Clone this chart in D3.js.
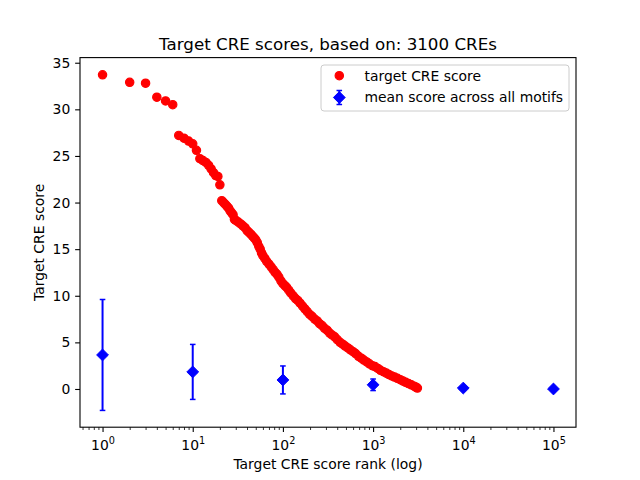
<!DOCTYPE html>
<html>
<head>
<meta charset="utf-8">
<script src="https://cdn.jsdelivr.net/npm/d3@7"></script>
<style>
body { margin: 0; background: #fff; }
svg { font-family: "DejaVu Sans", sans-serif; }
</style>
</head>
<body>
<div id="chart"></div>
<script>
// data
var ranks = [1, 2, 3, 4, 5, 6, 7, 8, 9, 10, 11, 12, 13, 14, 15, 16, 17, 18, 19, 20,
    21, 22, 23, 24, 25, 26, 27, 28, 29, 30, 32, 34, 36, 38, 40, 42, 44, 46, 48, 50,
    52, 54, 56, 58, 60, 63, 66, 70, 74, 78, 82, 86, 90, 95, 100, 105, 110, 116, 122, 130,
    138, 146, 155, 165, 175, 186, 198, 210, 225, 240, 255, 272, 290, 310, 330, 350, 375, 400, 430, 460,
    490, 525, 560, 600, 640, 690, 740, 790, 850, 910, 980, 1050, 1130, 1210, 1300, 1400, 1500, 1610, 1730, 1860,
    2000, 2150, 2300, 2470, 2650, 2850, 3000, 3100];
var scores = [33.7, 32.9, 32.8, 31.3, 30.9, 30.5, 27.2, 26.9, 26.6, 26.3, 25.6, 24.7, 24.5, 24.3, 24.0, 23.6, 23.2, 22.9, 22.8, 21.9,
    20.2, 20.0, 19.8, 19.6, 19.4, 19.1, 18.9, 18.7, 18.2, 18.1, 17.9, 17.7, 17.5, 17.3, 17.0, 16.8, 16.6, 16.4, 16.2, 16.0,
    15.7, 15.3, 15.0, 14.6, 14.3, 14.0, 13.7, 13.4, 13.1, 12.8, 12.5, 12.3, 12.0, 11.6, 11.3, 11.1, 10.9, 10.6, 10.3, 10.0,
    9.7, 9.5, 9.2, 8.9, 8.6, 8.3, 8.0, 7.8, 7.5, 7.3, 7.0, 6.8, 6.5, 6.3, 6.0, 5.8, 5.6, 5.3, 5.0, 4.8,
    4.6, 4.4, 4.2, 4.0, 3.8, 3.5, 3.3, 3.1, 2.9, 2.7, 2.5, 2.4, 2.2, 2.0, 1.85, 1.7, 1.55, 1.4, 1.28, 1.15,
    1.0, 0.85, 0.72, 0.58, 0.45, 0.3, 0.18, 0.1];

var motifRanks = [1, 10, 100, 1000, 10000, 100000];
var motifMeans = [3.65, 1.83, 0.97, 0.45, 0.1, 0.0];
var motifErrs = [5.95, 2.95, 1.5, 0.62, 0.05, 0.02];

var yTicks = [0, 5, 10, 15, 20, 25, 30, 35];
var xTicks = [1, 10, 100, 1000, 10000, 100000];
var xTickExps = ['0', '1', '2', '3', '4', '5'];

var titleText = 'Target CRE scores, based on: 3100 CREs';
var xLabel = 'Target CRE score rank (log)';
var yLabel = 'Target CRE score';
var legendLabels = ['target CRE score', 'mean score across all motifs'];

// layout
var width = 640, height = 480;
var plotL = 80, plotR = 576, plotT = 57.6, plotB = 427.2;
var fs = 13.9;

var svg = d3.select('#chart').append('svg')
    .attr('width', width)
    .attr('height', height);

var x = d3.scaleLog()
    .domain([Math.pow(10, -0.25), Math.pow(10, 5.25)])
    .range([plotL, plotR]);
var y = d3.scaleLinear()
    .domain([-4.1, 35.55])
    .range([plotB, plotT]);

// axes
var xMinor = x.ticks().filter(function (d) {
    var l = Math.log10(d);
    return Math.abs(l - Math.round(l)) > 1e-6;
});

svg.append('g')
    .attr('transform', 'translate(0,' + plotB + ')')
    .call(d3.axisBottom(x).tickValues(xMinor).tickSize(2.8).tickSizeOuter(0).tickFormat(''))
    .call(function (g) { g.select('.domain').remove(); })
    .selectAll('line').attr('stroke-width', 0.8);

var xAxis = svg.append('g')
    .attr('transform', 'translate(0,' + plotB + ')')
    .call(d3.axisBottom(x).tickValues(xTicks).tickSize(4.86).tickPadding(4.86).tickSizeOuter(0).tickFormat(''));
xAxis.select('.domain').remove();
xAxis.selectAll('line').attr('stroke-width', 1.1);
xAxis.selectAll('.tick').each(function (d, i) {
    var t = d3.select(this).select('text')
        .attr('font-size', fs)
        .attr('font-family', '"DejaVu Sans", sans-serif')
        .attr('fill', '#000')
        .attr('dy', null)
        .attr('y', 22.8);
    t.append('tspan').text('10');
    t.append('tspan')
        .attr('font-size', fs * 0.7)
        .attr('dy', -6)
        .text(xTickExps[i]);
});

var yAxis = svg.append('g')
    .attr('transform', 'translate(' + plotL + ',0)')
    .call(d3.axisLeft(y).tickValues(yTicks).tickSize(4.86).tickPadding(4.86).tickSizeOuter(0));
yAxis.select('.domain').remove();
yAxis.selectAll('line').attr('stroke-width', 1.1);
yAxis.selectAll('text')
    .attr('font-size', fs)
    .attr('font-family', '"DejaVu Sans", sans-serif')
    .attr('fill', '#000');

// red scatter
var cre = ranks.map(function (r, i) { return { r: r, s: scores[i] }; });
svg.append('g').selectAll('circle')
    .data(cre)
    .enter()
    .append('circle')
    .attr('cx', function (d) { return x(d.r); })
    .attr('cy', function (d) { return y(d.s); })
    .attr('r', 4.17)
    .attr('fill', '#ff0000')
    .attr('stroke', '#ff0000')
    .attr('stroke-width', 1.2);

// blue errorbars
var motifs = motifRanks.map(function (r, i) { return { r: r, m: motifMeans[i], e: motifErrs[i] }; });
var eb = svg.append('g').selectAll('g')
    .data(motifs)
    .enter()
    .append('g')
    .attr('stroke', '#0000ff');
eb.append('line')
    .attr('x1', function (d) { return x(d.r); })
    .attr('x2', function (d) { return x(d.r); })
    .attr('y1', function (d) { return y(d.m - d.e); })
    .attr('y2', function (d) { return y(d.m + d.e); })
    .attr('stroke-width', 2);
[-1, 1].forEach(function (sgn) {
    eb.append('line')
        .attr('x1', function (d) { return x(d.r) - 2.8; })
        .attr('x2', function (d) { return x(d.r) + 2.8; })
        .attr('y1', function (d) { return y(d.m + sgn * d.e); })
        .attr('y2', function (d) { return y(d.m + sgn * d.e); })
        .attr('stroke-width', 1.5);
});

var dr = 5.9;
var diamond = 'M0,' + (-dr) + 'L' + dr + ',0L0,' + dr + 'L' + (-dr) + ',0Z';
eb.append('path')
    .attr('d', diamond)
    .attr('transform', function (d) { return 'translate(' + x(d.r) + ',' + y(d.m) + ')'; })
    .attr('fill', '#0000ff')
    .attr('stroke-width', 1);

// frame
svg.append('rect')
    .attr('x', plotL).attr('y', plotT)
    .attr('width', plotR - plotL).attr('height', plotB - plotT)
    .attr('fill', 'none')
    .attr('stroke', '#000')
    .attr('stroke-width', 1.1);

// texts
svg.append('text')
    .attr('x', (plotL + plotR) / 2).attr('y', 49.5)
    .attr('text-anchor', 'middle')
    .attr('font-size', 16.7)
    .text(titleText);
svg.append('text')
    .attr('x', (plotL + plotR) / 2).attr('y', 469)
    .attr('text-anchor', 'middle')
    .attr('font-size', fs)
    .text(xLabel);
svg.append('text')
    .attr('transform', 'translate(44,' + ((plotT + plotB) / 2) + ') rotate(-90)')
    .attr('text-anchor', 'middle')
    .attr('font-size', fs)
    .text(yLabel);

// legend
var lg = svg.append('g');
lg.append('rect')
    .attr('x', 321).attr('y', 65)
    .attr('width', 248).attr('height', 46)
    .attr('rx', 3)
    .attr('fill', '#fff').attr('fill-opacity', 0.8)
    .attr('stroke', '#cccccc').attr('stroke-width', 1);
lg.append('circle')
    .attr('cx', 339.3).attr('cy', 75.7).attr('r', 4.17)
    .attr('fill', '#ff0000').attr('stroke', '#ff0000').attr('stroke-width', 1.2);
var lb = lg.append('g').attr('stroke', '#0000ff');
lb.append('line').attr('x1', 339.3).attr('x2', 339.3).attr('y1', 90.5).attr('y2', 104.5).attr('stroke-width', 2);
lb.append('line').attr('x1', 336.5).attr('x2', 342.1).attr('y1', 90.5).attr('y2', 90.5).attr('stroke-width', 1.5);
lb.append('line').attr('x1', 336.5).attr('x2', 342.1).attr('y1', 104.5).attr('y2', 104.5).attr('stroke-width', 1.5);
lb.append('path').attr('d', diamond).attr('transform', 'translate(339.3,97.5)')
    .attr('fill', '#0000ff').attr('stroke-width', 1);
lg.selectAll('text.lab')
    .data(legendLabels)
    .enter()
    .append('text')
    .attr('class', 'lab')
    .attr('x', 364.5)
    .attr('y', function (d, i) { return 80.7 + i * 21.5; })
    .attr('font-size', fs)
    .text(function (d) { return d; });
</script>
</body>
</html>
